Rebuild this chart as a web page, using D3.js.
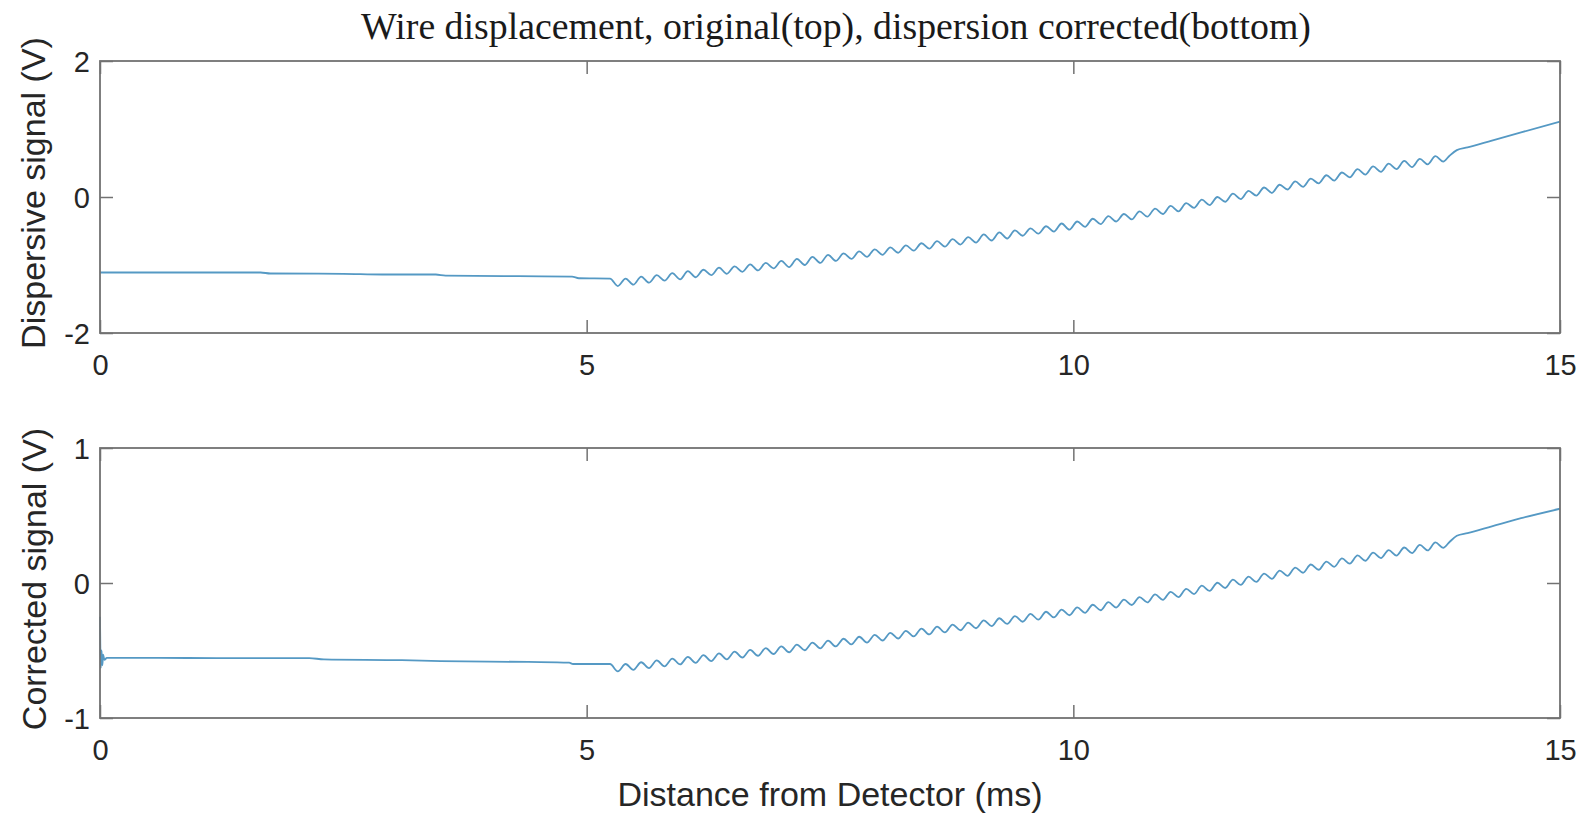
<!DOCTYPE html>
<html>
<head>
<meta charset="utf-8">
<script src="https://cdn.jsdelivr.net/npm/d3@7"></script>
<style>
  html, body { margin: 0; padding: 0; background: #fff; }
  svg { display: block; }
</style>
</head>
<body>
<svg id="chart" width="1595" height="814"></svg>
<script>
// ---------------- DATA ----------------
const titleText = "Wire displacement, original(top), dispersion corrected(bottom)";
const xLabelText = "Distance from Detector (ms)";
const topYLabel = "Dispersive signal (V)";
const bottomYLabel = "Corrected signal (V)";

const xDomain = [0, 15];
const xTicks = [0, 5, 10, 15];
const topDomain = [-2, 2];
const topTicks = [-2, 0, 2];
const bottomDomain = [-1, 1];
const bottomTicks = [-1, 0, 1];

// flat part before the wave arrives
const preTimesTop = [0, 0.6, 1.2, 1.65, 1.75, 2.5, 2.9, 3.45, 3.55, 4.3, 4.85, 4.92, 5.24];
const preValuesTop = [-1.11, -1.11, -1.11, -1.11, -1.125, -1.13, -1.14, -1.14, -1.155, -1.165, -1.17, -1.195, -1.20];

const preTimesBottom = [0, 0.008, 0.016, 0.024, 0.032, 0.045, 0.07, 0.6, 1.2, 2.15, 2.3, 3.1, 3.5, 4.4, 4.82, 4.86, 5.24];
const preValuesBottom = [-0.25, -0.63, -0.50, -0.61, -0.53, -0.57, -0.555, -0.555, -0.556, -0.556, -0.566, -0.572, -0.578, -0.585, -0.59, -0.60, -0.60];

// zig-zag vertices (troughs / peaks) of the ripple
const waveTimes = [
  5.32,5.40,5.48,5.56,5.64,5.72,5.80,5.88,5.96,6.04,
  6.12,6.20,6.28,6.36,6.44,6.52,6.60,6.68,6.76,6.84,
  6.92,7.00,7.08,7.16,7.24,7.32,7.40,7.48,7.56,7.64,
  7.72,7.80,7.88,7.96,8.04,8.12,8.20,8.28,8.36,8.44,
  8.52,8.60,8.68,8.76,8.84,8.92,9.00,9.08,9.16,9.24,
  9.32,9.40,9.48,9.56,9.64,9.72,9.80,9.88,9.96,10.04,
  10.12,10.20,10.28,10.36,10.44,10.52,10.60,10.68,10.76,10.84,
  10.92,11.00,11.08,11.16,11.24,11.32,11.40,11.48,11.56,11.64,
  11.72,11.80,11.88,11.96,12.04,12.12,12.20,12.28,12.36,12.44,
  12.52,12.60,12.68,12.76,12.84,12.92,13.00,13.08,13.16,13.24,
  13.32,13.40,13.48,13.56,13.64,13.72,13.80
];
const waveTop = [
  -1.31,-1.20,-1.29,-1.17,-1.26,-1.15,-1.23,-1.12,-1.21,-1.09,
  -1.18,-1.07,-1.15,-1.04,-1.13,-1.02,-1.10,-0.99,-1.08,-0.97,
  -1.05,-0.94,-1.03,-0.91,-1.00,-0.88,-0.97,-0.85,-0.94,-0.83,
  -0.91,-0.80,-0.88,-0.77,-0.85,-0.74,-0.82,-0.71,-0.79,-0.68,
  -0.76,-0.65,-0.73,-0.62,-0.70,-0.59,-0.67,-0.55,-0.64,-0.52,
  -0.61,-0.49,-0.57,-0.46,-0.54,-0.43,-0.51,-0.39,-0.48,-0.36,
  -0.44,-0.32,-0.40,-0.28,-0.36,-0.25,-0.33,-0.21,-0.29,-0.17,
  -0.25,-0.13,-0.21,-0.09,-0.16,-0.04,-0.12,0.00,-0.07,0.05,
  -0.03,0.09,0.02,0.14,0.06,0.18,0.11,0.23,0.15,0.27,
  0.20,0.32,0.24,0.36,0.29,0.41,0.33,0.45,0.37,0.49,
  0.41,0.53,0.44,0.56,0.48,0.60,0.52
];
const waveBottom = [
  -0.655,-0.600,-0.643,-0.587,-0.630,-0.573,-0.617,-0.560,-0.603,-0.547,
  -0.591,-0.534,-0.578,-0.521,-0.565,-0.508,-0.552,-0.495,-0.539,-0.483,
  -0.526,-0.470,-0.513,-0.456,-0.498,-0.441,-0.484,-0.427,-0.470,-0.413,
  -0.455,-0.398,-0.441,-0.384,-0.426,-0.369,-0.411,-0.354,-0.396,-0.338,
  -0.381,-0.323,-0.366,-0.308,-0.350,-0.293,-0.335,-0.277,-0.319,-0.261,
  -0.303,-0.245,-0.287,-0.229,-0.271,-0.213,-0.255,-0.197,-0.239,-0.180,
  -0.221,-0.161,-0.202,-0.142,-0.182,-0.123,-0.163,-0.104,-0.144,-0.084,
  -0.125,-0.065,-0.104,-0.043,-0.082,-0.020,-0.059,0.002,-0.037,0.025,
  -0.014,0.047,0.008,0.070,0.031,0.092,0.053,0.114,0.076,0.137,
  0.098,0.159,0.120,0.182,0.143,0.204,0.165,0.225,0.184,0.244,
  0.203,0.263,0.222,0.282,0.241,0.301,0.260
];

// after the step near 13.9 ms
const tailTimes = [13.86, 13.94, 14.05, 14.3, 14.6, 15.0];
const tailTop = [0.60, 0.69, 0.73, 0.83, 0.95, 1.11];
const tailBottom = [0.30, 0.35, 0.37, 0.42, 0.48, 0.55];

// ---------------- LAYOUT / STYLE ----------------
const W = 1595, H = 814;
const plotLeft = 100, plotRight = 1560;
const panels = [
  { top: 61, bottom: 333, domain: topDomain, ticks: topTicks, label: topYLabel,
    pre: [preTimesTop, preValuesTop], wave: waveTop, tail: tailTop, labelX: 45 },
  { top: 448, bottom: 718, domain: bottomDomain, ticks: bottomTicks, label: bottomYLabel,
    pre: [preTimesBottom, preValuesBottom], wave: waveBottom, tail: tailBottom, labelX: 46 }
];
const tickBaseOffset = 42;
const axisColor = "#727272";
const textColor = "#262626";
const lineColor = "#5599c4";
const sansFont = "'Liberation Sans', Arial, Helvetica, sans-serif";
const tickFontSize = 29;
const labelFontSize = 34;
const tickLen = 13;

const svg = d3.select("#chart");
svg.append("rect").attr("width", W).attr("height", H).attr("fill", "#fff");

const x = d3.scaleLinear().domain(xDomain).range([plotLeft, plotRight]);
const fmt = d => String(d);

panels.forEach(p => {
  const y = d3.scaleLinear().domain(p.domain).range([p.bottom, p.top]);
  const g = svg.append("g");

  // series
  const pts = [];
  p.pre[0].forEach((t, i) => pts.push([t, p.pre[1][i]]));
  waveTimes.forEach((t, i) => pts.push([t, p.wave[i]]));
  tailTimes.forEach((t, i) => pts.push([t, p.tail[i]]));

  const line = d3.line().x(d => x(d[0])).y(d => y(d[1])).curve(d3.curveMonotoneX);
  g.append("path")
    .datum(pts)
    .attr("d", line)
    .attr("fill", "none")
    .attr("stroke", lineColor)
    .attr("stroke-width", 1.8)
    .attr("stroke-linejoin", "round");

  // axes (inward ticks on all four sides)
  const axB = g.append("g").attr("transform", `translate(0,${p.bottom})`)
    .call(d3.axisBottom(x).tickValues(xTicks).tickSize(-tickLen).tickPadding(0).tickFormat(fmt));
  const axT = g.append("g").attr("transform", `translate(0,${p.top})`)
    .call(d3.axisTop(x).tickValues(xTicks).tickSize(-tickLen).tickFormat(""));
  const axL = g.append("g").attr("transform", `translate(${plotLeft},0)`)
    .call(d3.axisLeft(y).tickValues(p.ticks).tickSize(-tickLen).tickPadding(10).tickFormat(fmt));
  const axR = g.append("g").attr("transform", `translate(${plotRight},0)`)
    .call(d3.axisRight(y).tickValues(p.ticks).tickSize(-tickLen).tickFormat(""));

  [axB, axT, axL, axR].forEach(a => {
    a.select(".domain").remove();
    a.selectAll(".tick line").attr("stroke", axisColor).attr("stroke-width", 1.5);
  });
  axB.selectAll(".tick text")
    .attr("y", tickBaseOffset).attr("dy", null)
    .attr("font-family", sansFont).attr("font-size", tickFontSize).attr("fill", textColor);
  axL.selectAll(".tick text")
    .attr("x", -10).attr("dy", "0.36em")
    .attr("font-family", sansFont).attr("font-size", tickFontSize).attr("fill", textColor);

  // box
  g.append("rect")
    .attr("x", plotLeft).attr("y", p.top)
    .attr("width", plotRight - plotLeft).attr("height", p.bottom - p.top)
    .attr("fill", "none").attr("stroke", axisColor).attr("stroke-width", 1.8);

  // y label
  g.append("text")
    .attr("transform", `translate(${p.labelX},${(p.top + p.bottom) / 2 - 4}) rotate(-90)`)
    .attr("text-anchor", "middle")
    .attr("font-family", sansFont).attr("font-size", labelFontSize).attr("fill", textColor)
    .text(p.label);
});

// x label
svg.append("text")
  .attr("x", (plotLeft + plotRight) / 2).attr("y", 806)
  .attr("text-anchor", "middle")
  .attr("font-family", sansFont).attr("font-size", labelFontSize).attr("fill", textColor)
  .text(xLabelText);

// title (serif, LaTeX-like), sized to the reference width
const title = svg.append("text")
  .attr("x", 836).attr("y", 39)
  .attr("text-anchor", "middle")
  .attr("font-family", "'Liberation Serif', 'DejaVu Serif', serif")
  .attr("font-size", 32).attr("fill", "#1a1a1a")
  .text(titleText);
const tw = title.node().getComputedTextLength();
title.attr("font-size", 32 * 950 / tw);
</script>
</body>
</html>
